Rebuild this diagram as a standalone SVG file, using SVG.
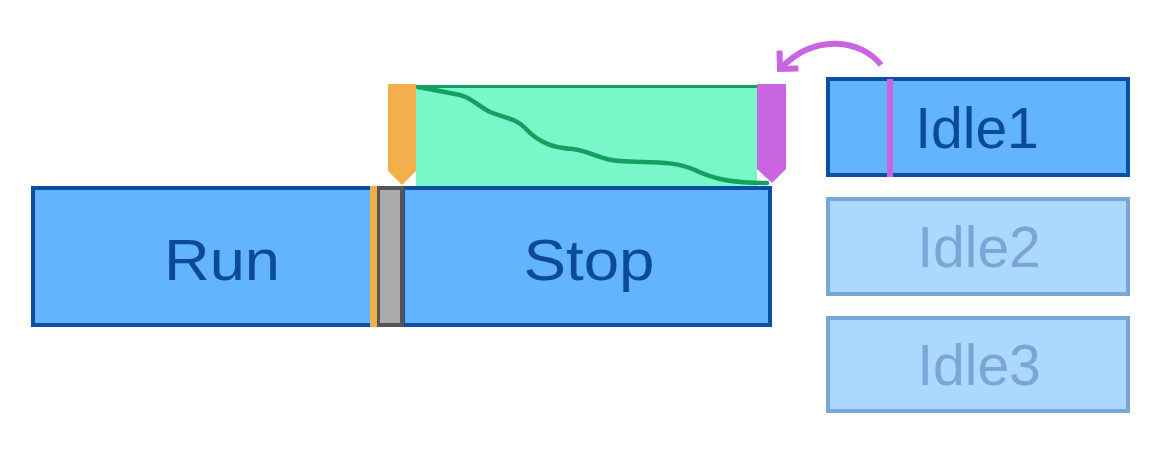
<svg xmlns="http://www.w3.org/2000/svg" width="1162" height="452" viewBox="0 0 1162 452">
<defs>
<style>
.box{fill:#63b4ff;stroke:#0a4fa0;stroke-width:4}
.fade{fill:#acd7ff;stroke:#7aa6d6;stroke-width:4}
.lbl{font-family:"Liberation Sans",Arial,sans-serif;font-size:57px;fill:#0b4a9a;text-anchor:middle}
.flbl{font-family:"Liberation Sans",Arial,sans-serif;font-size:57px;fill:#7aa6d6;text-anchor:middle}
</style>
<marker id="ah" markerUnits="userSpaceOnUse" viewBox="-16 -16 20 32" markerWidth="20" markerHeight="32" refX="0" refY="0" orient="auto" overflow="visible">
<path d="M-13,-13 L0,0 L-13,13" fill="none" stroke="#c965e0" stroke-width="6" stroke-linecap="butt"/>
</marker>
</defs>
<rect width="1162" height="452" fill="#ffffff"/>
<g id="run"><rect class="box" x="33" y="188" width="339" height="137"/><text class="lbl" x="222" y="280" textLength="116" lengthAdjust="spacingAndGlyphs">Run</text></g>
<g id="stop"><rect class="box" x="403" y="188" width="367" height="137"/><text class="lbl" x="589" y="280" textLength="131" lengthAdjust="spacingAndGlyphs">Stop</text></g>
<g id="gap"><rect x="378" y="188" width="24" height="137" fill="#aaaaaa" stroke="#555555" stroke-width="4"/><rect x="370" y="186" width="7" height="141" fill="#f2b04c"/></g>
<g id="window">
<rect x="416" y="85" width="341" height="101" fill="#78f8c8"/>
<line x1="416" y1="86.5" x2="757" y2="86.5" stroke="#13a060" stroke-width="3"/>
<path d="M418,87 C435,90 445,92 455,94 C470,96 475,104 490,112 C505,118 515,118 525,128 C540,144 555,148 573,149 C590,151 600,160 620,161 C650,163 672,160 695,170 C715,180 735,183 767,183" fill="none" stroke="#13a060" stroke-width="4.5" stroke-linecap="round"/>
</g>
<g id="start-marker"><path d="M388,84 L416,84 L416,171 L402,185 L388,171 Z" fill="#f2b04c"/></g>
<g id="end-marker"><path d="M757,84 L786,84 L786,169 L772,183 L757,169 Z" fill="#c965e0"/></g>
<g id="idle1"><rect class="box" x="828" y="79" width="300" height="96"/><rect x="887" y="79" width="6" height="98" fill="#c965e0"/><text class="lbl" x="977" y="148">Idle1</text></g>
<g id="idle2"><rect class="fade" x="828" y="199" width="300" height="95"/><text class="flbl" x="979" y="267">Idle2</text></g>
<g id="idle3"><rect class="fade" x="828" y="318" width="300" height="93"/><text class="flbl" x="979" y="385">Idle3</text></g>
<g id="connectors"><path d="M881,65 C862,40 815,32 780,69" fill="none" stroke="#c965e0" stroke-width="6" marker-end="url(#ah)"/></g>
</svg>
